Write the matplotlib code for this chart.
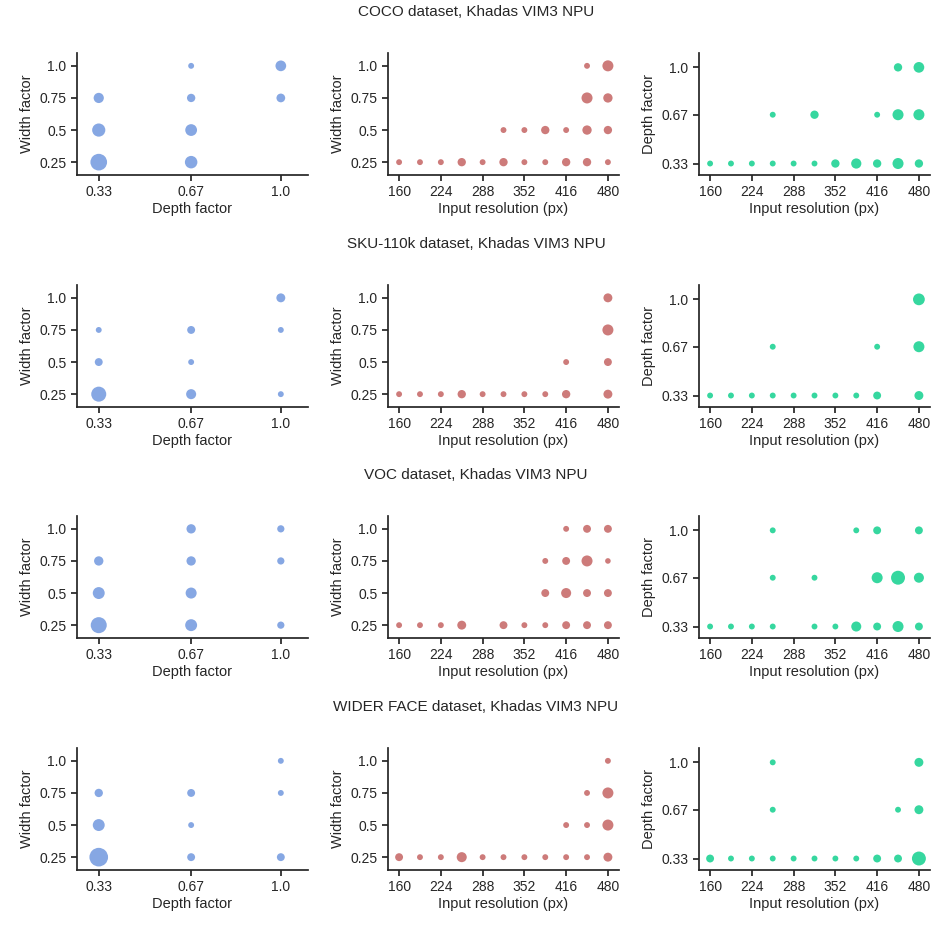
import matplotlib.pyplot as plt

plt.rcParams['font.family'] = ['Liberation Sans', 'DejaVu Sans']
plt.rcParams['text.color'] = '#262626'
plt.rcParams['axes.labelcolor'] = '#262626'
plt.rcParams['xtick.color'] = '#262626'
plt.rcParams['ytick.color'] = '#262626'

datasets = ["COCO", "SKU-110k", "VOC", "WIDER FACE"]
device = "Khadas VIM3 NPU"

res_ticks = [160, 224, 288, 352, 416, 480]
depth_ticks = [0.33, 0.67, 1.0]
width_ticks = [0.25, 0.5, 0.75, 1.0]

# ---- COCO ----
coco_dw_depth = [0.33, 0.33, 0.33, 0.67, 0.67, 0.67, 0.67, 1.0, 1.0]
coco_dw_width = [0.25, 0.5, 0.75, 0.25, 0.5, 0.75, 1.0, 0.75, 1.0]
coco_dw_n = [8, 5, 3, 4.5, 4, 2, 1, 2.2, 3.3]

coco_rw_res = [160, 192, 224, 256, 288, 320, 352, 384, 416, 448, 480,
               320, 352, 384, 416, 448, 480,
               448, 480,
               448, 480]
coco_rw_width = [0.25] * 11 + [0.5] * 6 + [0.75] * 2 + [1.0] * 2
coco_rw_n = [1, 1, 1, 2, 1, 2, 1, 1, 2, 2, 1,
             1, 1, 2, 1, 2.5, 2,
             3.5, 2.5,
             1, 3.5]

coco_rd_res = [160, 192, 224, 256, 288, 320, 352, 384, 416, 448, 480,
               256, 320, 416, 448, 480,
               448, 480]
coco_rd_depth = [0.33] * 11 + [0.67] * 5 + [1.0] * 2
coco_rd_n = [1, 1, 1, 1, 1, 1, 2, 3, 2, 3.5, 2,
             1, 2, 1, 3.5, 3.5,
             2, 3.3]

# ---- SKU-110k ----
sku_dw_depth = [0.33, 0.33, 0.33, 0.67, 0.67, 0.67, 1.0, 1.0, 1.0]
sku_dw_width = [0.25, 0.5, 0.75, 0.25, 0.5, 0.75, 0.25, 0.75, 1.0]
sku_dw_n = [6.5, 1.8, 1, 2.9, 1, 1.8, 1, 1, 2.3]

sku_rw_res = [160, 192, 224, 256, 288, 320, 352, 384, 416, 480,
              416, 480,
              480,
              480]
sku_rw_width = [0.25] * 10 + [0.5] * 2 + [0.75] + [1.0]
sku_rw_n = [1, 1, 1, 2, 1, 1, 1, 1, 2, 2.3,
            1, 1.8,
            3.5,
            2.3]

sku_rd_res = [160, 192, 224, 256, 288, 320, 352, 384, 416, 480,
              256, 416, 480,
              480]
sku_rd_depth = [0.33] * 10 + [0.67] * 3 + [1.0]
sku_rd_n = [1, 1, 1, 1, 1, 1, 1, 1, 1.8, 2.3,
            1, 1, 3.5,
            4]

# ---- VOC ----
voc_dw_depth = [0.33, 0.33, 0.33, 0.67, 0.67, 0.67, 0.67, 1.0, 1.0, 1.0]
voc_dw_width = [0.25, 0.5, 0.75, 0.25, 0.5, 0.75, 1.0, 0.25, 0.75, 1.0]
voc_dw_n = [7.4, 4.1, 2.5, 4.1, 3.5, 2.5, 2.5, 1.5, 1.5, 1.5]

voc_rw_res = [160, 192, 224, 256, 320, 352, 384, 416, 448, 480,
              384, 416, 448, 480,
              384, 416, 448, 480,
              416, 448, 480]
voc_rw_width = [0.25] * 10 + [0.5] * 4 + [0.75] * 4 + [1.0] * 3
voc_rw_n = [1, 1, 1, 2.3, 1.8, 1, 1, 1.8, 1.8, 1.8,
            1.8, 2.9, 1.8, 1.8,
            1, 1.8, 3.5, 0.9,
            1, 1.8, 1.8]

voc_rd_res = [160, 192, 224, 256, 320, 352, 384, 416, 448, 480,
              256, 320, 416, 448, 480,
              256, 384, 416, 480]
voc_rd_depth = [0.33] * 10 + [0.67] * 5 + [1.0] * 4
voc_rd_n = [1, 1, 1, 1, 1, 1, 2.9, 1.8, 3.5, 1.8,
            1, 1, 3.5, 5.6, 2.9,
            1, 1, 1.8, 1.8]

# ---- WIDER FACE ----
wider_dw_depth = [0.33, 0.33, 0.33, 0.67, 0.67, 0.67, 1.0, 1.0, 1.0]
wider_dw_width = [0.25, 0.5, 0.75, 0.25, 0.5, 0.75, 0.25, 0.75, 1.0]
wider_dw_n = [10, 4.1, 2, 1.8, 1, 1.8, 1.8, 1, 1]

wider_rw_res = [160, 192, 224, 256, 288, 320, 352, 384, 416, 448, 480,
                416, 448, 480,
                448, 480,
                480]
wider_rw_width = [0.25] * 11 + [0.5] * 3 + [0.75] * 2 + [1.0]
wider_rw_n = [1.8, 1, 1, 2.9, 1, 1, 1, 1, 1, 1, 2.3,
              1, 1, 3.5,
              1, 3.5,
              1]

wider_rd_res = [160, 192, 224, 256, 288, 320, 352, 384, 416, 448, 480,
                256, 448, 480,
                256, 480]
wider_rd_depth = [0.33] * 11 + [0.67] * 3 + [1.0] * 2
wider_rd_n = [1.8, 1, 1, 1, 1, 1, 1, 1, 1.8, 1.8, 5.6,
              1, 1, 2.3,
              1, 2.3]

rows = [
    ((coco_dw_depth, coco_dw_width, coco_dw_n),
     (coco_rw_res, coco_rw_width, coco_rw_n),
     (coco_rd_res, coco_rd_depth, coco_rd_n)),
    ((sku_dw_depth, sku_dw_width, sku_dw_n),
     (sku_rw_res, sku_rw_width, sku_rw_n),
     (sku_rd_res, sku_rd_depth, sku_rd_n)),
    ((voc_dw_depth, voc_dw_width, voc_dw_n),
     (voc_rw_res, voc_rw_width, voc_rw_n),
     (voc_rd_res, voc_rd_depth, voc_rd_n)),
    ((wider_dw_depth, wider_dw_width, wider_dw_n),
     (wider_rw_res, wider_rw_width, wider_rw_n),
     (wider_rd_res, wider_rd_depth, wider_rd_n)),
]

colors = ["#86a7e3", "#cd7b7a", "#36d79f"]
size_unit = 18
tick_fs = 10
label_fs = 10.5

W, H = 952, 935
fig = plt.figure(figsize=(W / 100, H / 100), dpi=100)

col_left = [77, 388, 699]
ax_w, ax_h = 231, 122
row_top = [53, 285, 516, 748]


def style_axes(ax):
    for side in ["top", "right"]:
        ax.spines[side].set_visible(False)
    for side in ["left", "bottom"]:
        ax.spines[side].set_color('#262626')
        ax.spines[side].set_linewidth(1.25)
    ax.tick_params(length=4.5, width=1.25, labelsize=tick_fs, pad=3)


for r, (dw, rw, rd) in enumerate(rows):
    top = row_top[r]
    fig.text(0.5, 1 - (top - 41) / H, f"{datasets[r]} dataset, {device}",
             ha='center', va='center', fontsize=11)
    axes = []
    for c in range(3):
        ax = fig.add_axes([col_left[c] / W, 1 - (top + ax_h) / H, ax_w / W, ax_h / H])
        style_axes(ax)
        axes.append(ax)

    ax = axes[0]
    ax.scatter(dw[0], dw[1], s=[size_unit * v for v in dw[2]], c=colors[0], linewidths=0)
    ax.set_xlim(0.25, 1.1)
    ax.set_ylim(0.15, 1.1)
    ax.set_xticks(depth_ticks)
    ax.set_xticklabels(["0.33", "0.67", "1.0"])
    ax.set_yticks(width_ticks)
    ax.set_yticklabels(["0.25", "0.5", "0.75", "1.0"])
    ax.set_xlabel("Depth factor", fontsize=label_fs, labelpad=2)
    ax.set_ylabel("Width factor", fontsize=label_fs)

    ax = axes[1]
    ax.scatter(rw[0], rw[1], s=[size_unit * v for v in rw[2]], c=colors[1], linewidths=0)
    ax.set_xlim(143, 497)
    ax.set_ylim(0.15, 1.1)
    ax.set_xticks(res_ticks)
    ax.set_yticks(width_ticks)
    ax.set_yticklabels(["0.25", "0.5", "0.75", "1.0"])
    ax.set_xlabel("Input resolution (px)", fontsize=label_fs, labelpad=2)
    ax.set_ylabel("Width factor", fontsize=label_fs)

    ax = axes[2]
    ax.scatter(rd[0], rd[1], s=[size_unit * v for v in rd[2]], c=colors[2], linewidths=0)
    ax.set_xlim(143, 497)
    ax.set_ylim(0.25, 1.1)
    ax.set_xticks(res_ticks)
    ax.set_yticks(depth_ticks)
    ax.set_yticklabels(["0.33", "0.67", "1.0"])
    ax.set_xlabel("Input resolution (px)", fontsize=label_fs, labelpad=2)
    ax.set_ylabel("Depth factor", fontsize=label_fs)

fig.savefig("out.png", dpi=100)
